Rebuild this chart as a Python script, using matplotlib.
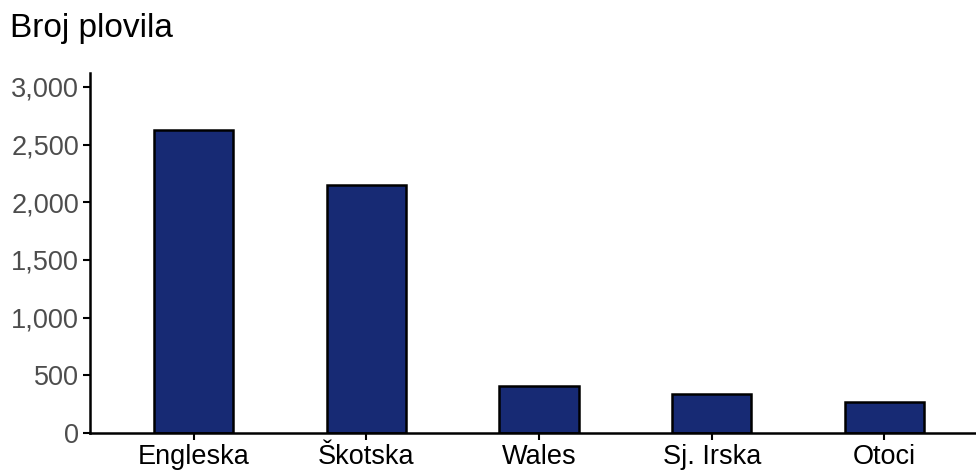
import matplotlib
matplotlib.use("Agg")
import matplotlib.pyplot as plt
from matplotlib.ticker import FuncFormatter

regions = ["Engleska", "Škotska", "Wales", "Sj. Irska", "Otoci"]
vessels = [2630, 2150, 410, 335, 270]

plt.rcParams['font.family'] = ['Liberation Sans', 'DejaVu Sans']

fig = plt.figure(figsize=(9.76, 4.70), dpi=100)
ax = fig.add_axes([90 / 976, 37 / 470, 1 - 90 / 976, 360 / 470])

x = range(len(regions))
ax.bar(x, vessels, width=0.46, color='#172a74', edgecolor='black', linewidth=1.8)

ax.set_xlim(-0.6, 4.53)
ax.set_ylim(0, 3120)
ax.set_yticks([0, 500, 1000, 1500, 2000, 2500, 3000])
ax.yaxis.set_major_formatter(FuncFormatter(lambda v, p: f"{int(v):,}"))
ax.set_xticks(list(x))
ax.set_xticklabels(regions)

for s in ['top', 'right']:
    ax.spines[s].set_visible(False)
for s in ['left', 'bottom']:
    ax.spines[s].set_linewidth(1.8)
    ax.spines[s].set_color('black')

ax.tick_params(axis='y', labelsize=19.5, labelcolor='#4d4d4d', length=5, width=1.5, pad=3)
ax.tick_params(axis='x', labelsize=19.5, labelcolor='black', length=5, width=1.5, pad=3)

fig.text(10 / 976, 1 - 28 / 470, "Broj plovila", fontsize=24, va='center', ha='left')

fig.savefig("out.png", dpi=100)
